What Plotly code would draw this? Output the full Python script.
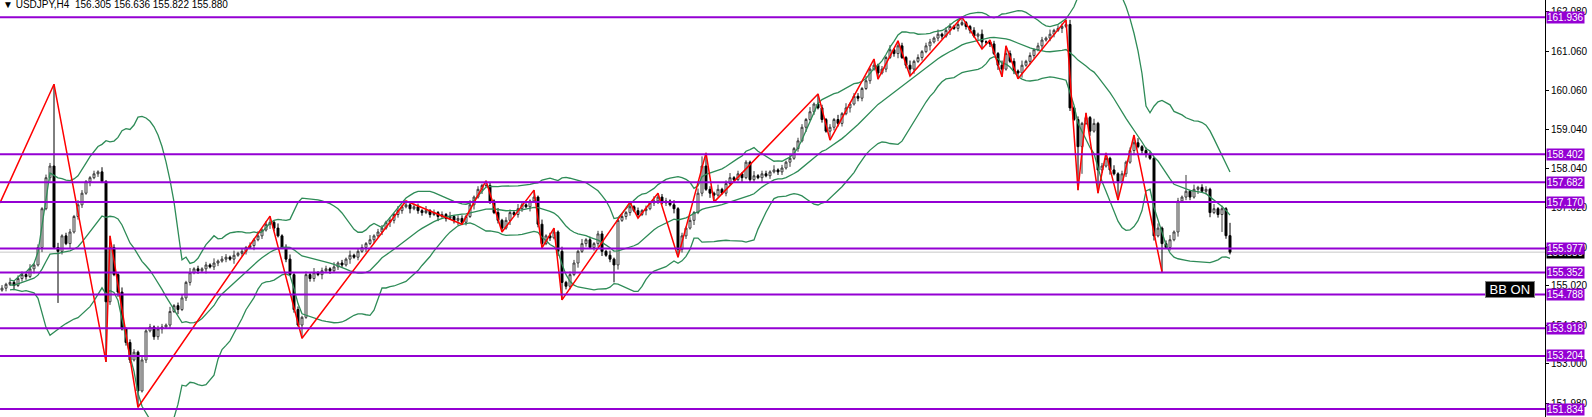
import plotly.graph_objects as go
import pandas as pd

title_text = "▼ USDJPY,H4  156.305 156.636 155.822 155.880"

# ---- candle closes (H4 bars, left to right) ----
closes = [
    154.95, 155.05, 155.10, 155.02, 155.20, 155.30, 155.25, 155.45, 155.55, 156.00,
    157.00, 157.80, 158.10, 156.00, 155.90, 156.30, 156.10, 156.40, 156.80, 157.10,
    157.40, 157.70, 157.80, 157.90, 157.95, 157.70, 154.60, 156.00, 155.30, 154.85,
    153.90, 153.55, 153.10, 153.30, 152.30, 153.10, 153.85, 153.95, 153.70, 153.90,
    153.95, 154.00, 154.35, 154.50, 154.40, 154.70, 155.10, 155.35, 155.45, 155.40,
    155.45, 155.55, 155.50, 155.60, 155.65, 155.70, 155.75, 155.70, 155.80, 155.85,
    155.90, 156.00, 156.05, 156.20, 156.30, 156.45, 156.60, 156.65, 156.50, 156.30,
    156.00, 155.70, 155.30, 154.40, 154.00, 154.20, 155.30, 155.20, 155.35, 155.30,
    155.40, 155.45, 155.40, 155.50, 155.60, 155.55, 155.70, 155.80, 155.75, 155.90,
    156.00, 156.10, 156.20, 156.30, 156.40, 156.50, 156.65, 156.70, 156.85, 156.95,
    157.05, 157.10, 157.00, 157.05, 156.95, 156.90, 156.95, 156.85, 156.90, 156.80,
    156.85, 156.75, 156.80, 156.70, 156.75, 156.65, 156.80, 157.10, 157.30, 157.50,
    157.60, 157.60, 157.20, 156.90, 156.70, 156.50, 156.70, 156.90, 156.85, 157.00,
    157.10, 157.05, 157.20, 157.30, 156.60, 156.10, 156.30, 156.25, 156.40, 155.90,
    155.10, 155.00, 155.30, 155.60, 155.90, 156.10, 156.20, 156.00, 156.10, 156.35,
    155.90, 155.80, 155.70, 155.55, 156.70, 156.80, 156.90, 157.05, 156.95, 156.85,
    156.95, 157.00, 157.15, 157.20, 157.30, 157.15, 157.20, 157.10, 157.00, 155.95,
    156.30, 156.50, 156.70, 156.90, 157.40, 158.10, 157.50, 157.40, 157.35, 157.50,
    157.40, 157.65, 157.80, 157.75, 157.90, 157.80, 158.20, 157.75, 157.85, 157.80,
    157.90, 157.85, 157.95, 158.00, 157.95, 158.05, 158.20, 158.30, 158.55, 158.75,
    159.10, 159.30, 159.50, 159.70, 159.60, 159.30, 159.00, 159.10, 159.30, 159.20,
    159.45, 159.60, 159.70, 159.90, 159.85, 160.10, 160.30, 160.60, 160.70, 160.50,
    160.60, 160.90, 161.10, 161.00, 161.20, 160.90, 160.70, 160.60, 160.80, 160.90,
    161.05, 161.20, 161.30, 161.40, 161.50, 161.45, 161.60, 161.70, 161.65, 161.75,
    161.80, 161.70, 161.60, 161.45, 161.50, 161.30, 161.30, 161.25, 161.00, 160.70,
    160.60, 161.00, 160.80, 160.55, 160.50, 160.70, 160.80, 160.95, 161.10, 161.20,
    161.35, 161.40, 161.50, 161.60, 161.65, 161.70, 161.75, 159.60, 159.30, 158.60,
    159.20, 159.35, 159.00, 159.20, 158.00, 158.10, 158.30, 158.00, 157.90, 157.70,
    157.90, 158.20, 158.50, 158.70, 158.60, 158.50, 158.40, 158.30, 156.30, 156.50,
    156.10, 156.00, 156.20, 156.40, 157.20, 157.30, 157.45, 157.30, 157.50, 157.55,
    157.45, 157.50, 156.90, 157.00, 156.85, 157.00, 156.305, 155.880,
]
first_open = 154.90

# wick lengths per bar (digit * wick_unit yen)
wick_up = ("2131221312" "1221312213" "2112131221" "3122131212" "2131221312"
           "1213122131" "2121312213" "1231212131" "2213121312" "2131221213"
           "1312213121" "2131221312" "1221312213" "2112131221" "3122131212"
           "2131221312" "1213122131" "2121312213" "1231212131" "2213121312"
           "2131221213" "1312213121" "2131221312" "1221312213" "2112131221"
           "3122131212" "2131221312" "1213122131" "2121312213" "1231212131"
           "2213121312")
wick_dn = ("1213122131" "3121221312" "2131211213" "1221312122" "3121312212"
           "1312212131" "2213121321" "1212131221" "3121221312" "1312121322"
           "2131221213" "1212312131" "3121221312" "2131211213" "1221312122"
           "3121312212" "1312212131" "2213121321" "1212131221" "3121221312"
           "1312121322" "2131221213" "1212312131" "2131221312" "1221312213"
           "2112131221" "3122131212" "2131221312" "1213122131" "2121312213"
           "1231212131")
wick_unit = 0.04

high_fix = {13: 160.21, 27: 156.30, 67: 156.81, 101: 157.20, 121: 157.72, 133: 157.48,
            138: 156.50, 157: 157.17, 164: 157.40, 175: 158.35, 176: 158.44, 186: 158.25,
            204: 159.96, 218: 160.86, 224: 161.33, 240: 161.94, 247: 161.35, 251: 161.20,
            266: 161.87, 271: 159.47, 276: 158.44, 283: 158.90, 296: 157.87, 307: 156.636}
low_fix = {14: 154.57, 26: 153.05, 34: 151.88, 75: 153.66, 115: 156.60, 125: 156.40,
           135: 155.99, 140: 154.65, 153: 155.10, 159: 156.76, 169: 155.75, 178: 157.17,
           207: 158.77, 219: 160.34, 227: 160.42, 245: 161.12, 250: 160.40, 254: 160.35,
           269: 157.48, 270: 157.90, 274: 157.40, 279: 157.22, 290: 155.37, 305: 156.40,
           307: 155.822}

# ---- zigzag vertices (bar index, price) ----
zz_idx = [-0.5, 13, 26, 27, 34, 67, 75, 101, 115, 121, 125, 133, 135, 138, 140, 157, 159,
          164, 169, 176, 178, 204, 207, 218, 219, 224, 227, 240, 245, 247, 250, 251, 254,
          266, 269, 271, 274, 276, 279, 283, 290]
zz_price = [157.15, 160.21, 153.05, 156.30, 151.88, 156.81, 153.66, 157.20, 156.60, 157.72,
            156.40, 157.48, 155.99, 156.50, 154.65, 157.17, 156.76, 157.40, 155.75, 158.44,
            157.17, 159.96, 158.77, 160.86, 160.34, 161.33, 160.42, 161.94, 161.12, 161.35,
            160.40, 161.20, 160.35, 161.87, 157.48, 159.47, 157.40, 158.44, 157.22, 158.90,
            155.37]

# ---- horizontal levels ----
levels = [161.936, 158.402, 157.682, 157.170, 155.977, 155.352, 154.788, 153.918, 153.204, 151.834]
level_labels = ["161.936", "158.402", "157.682", "157.170", "155.977", "155.352", "154.788",
                "153.918", "153.204", "151.834"]
bid_price = 155.880
bid_label = "155.880"

tick_vals = [162.08, 161.06, 160.06, 159.04, 158.04, 157.02, 156.00, 155.02, 154.00, 153.00, 151.98]
tick_text = ["162.080", "161.060", "160.060", "159.040", "158.040", "157.020", "156.000",
             "155.020", "154.000", "153.000", "151.980"]

bb_period = 20
bb_dev = 2.0

# ---- build OHLC ----
n = len(closes)
idx = list(range(n))
opens = [first_open] + closes[:-1]
highs, lows = [], []
for i in range(n):
    top = max(opens[i], closes[i])
    bot = min(opens[i], closes[i])
    h = high_fix.get(i, top + int(wick_up[i]) * wick_unit)
    l = low_fix.get(i, bot - int(wick_dn[i]) * wick_unit)
    highs.append(max(h, top))
    lows.append(min(l, bot))

s = pd.Series(closes)
mid = s.rolling(bb_period, min_periods=3).mean()
sd = s.rolling(bb_period, min_periods=3).std(ddof=0)
upper = mid + bb_dev * sd
lower = mid - bb_dev * sd

FONT = "Liberation Sans"
PURPLE = "#9400D3"
GREEN = "#2E8B57"

fig = go.Figure()
fig.add_trace(go.Candlestick(
    x=idx, open=opens, high=highs, low=lows, close=closes,
    increasing=dict(line=dict(color="#3a3a3a", width=1), fillcolor="#ffffff"),
    decreasing=dict(line=dict(color="#000000", width=1), fillcolor="#000000"),
    hoverinfo="skip", showlegend=False,
))
for band in (upper, mid, lower):
    fig.add_trace(go.Scatter(x=idx, y=band, mode="lines",
                             line=dict(color=GREEN, width=1.3),
                             hoverinfo="skip", showlegend=False))
fig.add_trace(go.Scatter(x=zz_idx, y=zz_price, mode="lines",
                         line=dict(color="#FF0000", width=1.5),
                         hoverinfo="skip", showlegend=False))

# bid line
fig.add_shape(type="line", xref="paper", x0=0, x1=1, yref="y", y0=bid_price, y1=bid_price,
              line=dict(color="#c8c8c8", width=1), layer="below")
fig.add_annotation(xref="paper", x=1, xanchor="left", xshift=1, yref="y", y=bid_price,
                   text=bid_label, showarrow=False, bgcolor="#000000", borderpad=0,
                   font=dict(family=FONT, size=10, color="white"))

for lv, lab in zip(levels, level_labels):
    fig.add_shape(type="line", xref="paper", x0=0, x1=1, yref="y", y0=lv, y1=lv,
                  line=dict(color=PURPLE, width=2))
    fig.add_annotation(xref="paper", x=1, xanchor="left", xshift=1, yref="y", y=lv,
                       text=lab, showarrow=False, bgcolor=PURPLE, borderpad=0,
                       font=dict(family=FONT, size=10, color="white"))

fig.add_annotation(xref="paper", x=0, xanchor="left", xshift=1, yref="paper", y=1,
                   yanchor="top", yshift=3, text=title_text, showarrow=False,
                   font=dict(family=FONT, size=10, color="#000000"))

fig.add_annotation(xref="paper", x=0.9775, xanchor="center", yref="paper", y=0.3046,
                   yanchor="middle", text="&nbsp;BB ON&nbsp;", showarrow=False,
                   bgcolor="#000000", bordercolor="#808080", borderwidth=1, borderpad=0,
                   font=dict(family=FONT, size=13, color="white"))

fig.update_layout(
    width=1592, height=417,
    margin=dict(l=0, r=47, t=0, b=0),
    paper_bgcolor="white", plot_bgcolor="white",
    showlegend=False,
    xaxis=dict(range=[-0.5, 385.75], visible=False, rangeslider=dict(visible=False),
               fixedrange=True),
    yaxis=dict(range=[151.629, 162.382], side="right", showgrid=False, zeroline=False,
               showline=True, linecolor="#000000", linewidth=1, fixedrange=True,
               ticks="outside", ticklen=3, tickcolor="#000000",
               tickvals=tick_vals, ticktext=tick_text,
               tickfont=dict(family=FONT, size=10, color="#000000")),
)

fig.write_html("out.html", config={"displayModeBar": False},
               post_script="document.body.style.margin='0px';document.body.style.overflow='hidden';")
